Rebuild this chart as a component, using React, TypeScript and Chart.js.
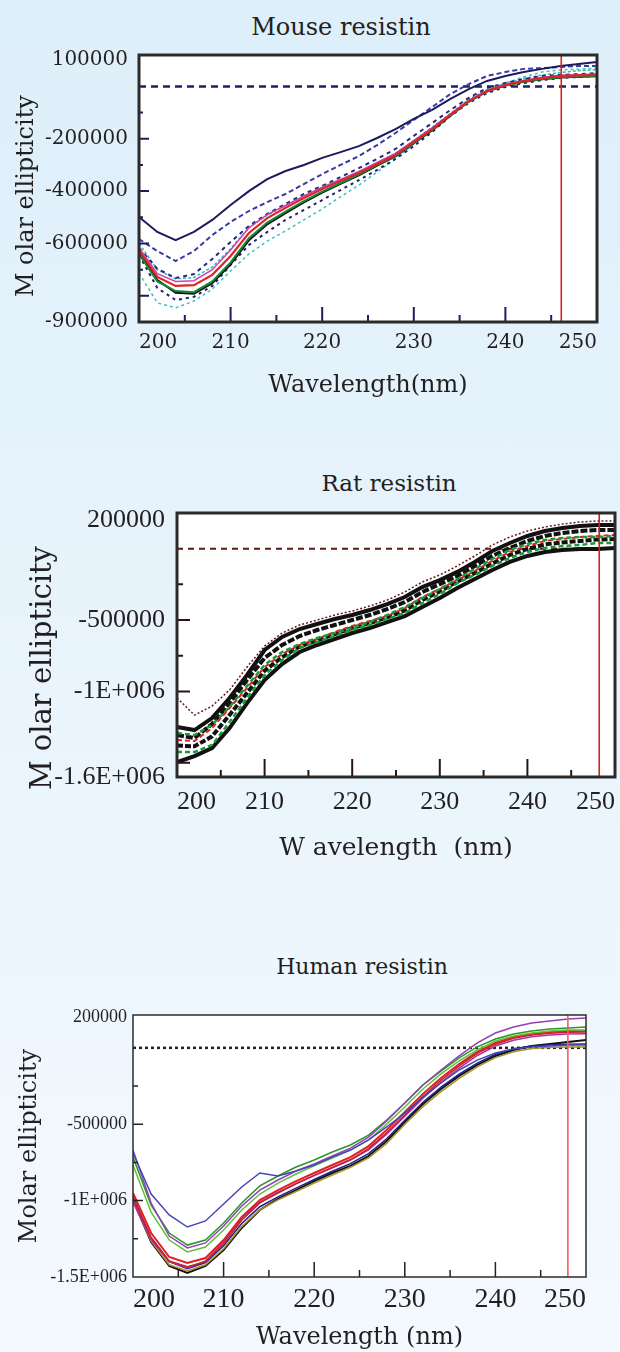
import React, { useEffect, useRef } from 'react';
import { Chart, registerables } from 'chart.js';

Chart.register(...registerables);

// ---------------- shared ----------------
const wavelengths = [200, 202, 204, 206, 208, 210, 212, 214, 216, 218, 220, 222, 224, 226, 228, 230, 232, 234, 236, 238, 240, 242, 244, 246, 248, 250];
const xLabelTicks = [200, 210, 220, 230, 240, 250];
const xMajorInner = [210, 220, 230, 240];
const xMinorInner = [205, 215, 225, 235, 245];

// ---------------- Mouse resistin ----------------
const mouseYTicks = [100000, -200000, -400000, -600000, -900000];
const mouseYLabels = ['100000', '-200000', '-400000', '-600000', '-900000'];
const mouseTop = [-499000, -556000, -587000, -556000, -510000, -453000, -400000, -354000, -323000, -300000, -273000, -251000, -228000, -197000, -163000, -124000, -90000, -48000, -10000, 21000, 40000, 55000, 67000, 78000, 86000, 93000];
const mouseNavy2 = [-583000, -629000, -667000, -629000, -568000, -518000, -476000, -442000, -411000, -373000, -335000, -300000, -266000, -224000, -178000, -128000, -79000, -29000, 9000, 40000, 55000, 67000, 70000, 74000, 78000, 78000];
const mouseNavy3 = [-617000, -697000, -732000, -717000, -659000, -594000, -533000, -487000, -449000, -411000, -380000, -346000, -312000, -277000, -239000, -189000, -140000, -90000, -44000, -6000, 13000, 28000, 40000, 44000, 47000, 51000];
const mouseNavy4 = [-644000, -770000, -816000, -804000, -762000, -682000, -606000, -556000, -510000, -472000, -434000, -396000, -358000, -319000, -277000, -228000, -174000, -113000, -63000, -25000, -2000, 13000, 24000, 32000, 36000, 40000];
const mouseRed = [-625000, -728000, -762000, -759000, -720000, -648000, -560000, -503000, -464000, -426000, -392000, -361000, -331000, -296000, -262000, -212000, -163000, -109000, -56000, -18000, 5000, 21000, 32000, 40000, 42000, 44000];
const mouseMagenta = [-615000, -715000, -745000, -742000, -700000, -625000, -540000, -490000, -455000, -418000, -385000, -355000, -325000, -290000, -256000, -207000, -158000, -105000, -53000, -16000, 7000, 23000, 34000, 42000, 45000, 47000];
const mouseGreen = [-640000, -745000, -782000, -786000, -745000, -672000, -580000, -520000, -478000, -438000, -402000, -369000, -337000, -300000, -265000, -215000, -166000, -111000, -58000, -20000, 3000, 18000, 28000, 35000, 38000, 40000];
const mouseBlack = [-630000, -740000, -788000, -792000, -752000, -680000, -588000, -527000, -484000, -443000, -406000, -372000, -340000, -303000, -267000, -217000, -168000, -112000, -57000, -18000, 4000, 18000, 27000, 34000, 37000, 39000];
const mouseCyanHigh = [-600000, -700000, -735000, -730000, -690000, -620000, -540000, -492000, -456000, -420000, -388000, -358000, -327000, -291000, -256000, -206000, -156000, -103000, -50000, -12000, 12000, 30000, 43000, 53000, 60000, 64000];
const mouseCyanLow = [-713000, -827000, -846000, -820000, -774000, -705000, -640000, -591000, -552000, -510000, -468000, -422000, -377000, -327000, -277000, -220000, -167000, -109000, -60000, -18000, 13000, 36000, 55000, 63000, 66000, 70000];
const mouseMarker = 246.1;

// ---------------- Rat resistin ----------------
const ratYTicks = [200000, -500000, -1000000, -1600000];
const ratYLabels = ['200000', '-500000', '-1E+006', '-1.6E+006'];
const ratDotted = [-1046000, -1166000, -1103000, -990000, -829000, -682000, -591000, -535000, -500000, -465000, -437000, -402000, -360000, -304000, -234000, -184000, -121000, -51000, 26000, 82000, 124000, 152000, 173000, 187000, 194000, 194000];
const ratBlack1 = [-1250000, -1271000, -1187000, -1046000, -885000, -710000, -619000, -563000, -528000, -493000, -465000, -430000, -388000, -339000, -269000, -220000, -163000, -93000, -16000, 40000, 89000, 124000, 145000, 159000, 166000, 166000];
const ratBlack2 = [-1306000, -1327000, -1229000, -1082000, -920000, -766000, -675000, -612000, -570000, -535000, -500000, -465000, -423000, -374000, -304000, -248000, -192000, -121000, -51000, 5000, 54000, 89000, 110000, 124000, 131000, 131000];
const ratBlack3 = [-1495000, -1453000, -1397000, -1257000, -1082000, -920000, -808000, -724000, -675000, -633000, -591000, -556000, -514000, -472000, -409000, -346000, -276000, -213000, -149000, -93000, -51000, -23000, -9000, -2000, -2000, 5000];
const ratBlack4 = [-1380000, -1385000, -1315000, -1165000, -1010000, -855000, -760000, -685000, -643000, -598000, -556000, -521000, -482000, -433000, -360000, -300000, -230000, -170000, -104000, -44000, -2000, 30000, 44000, 54000, 64000, 68000];
const ratRed = [-1341000, -1348000, -1257000, -1117000, -976000, -829000, -738000, -675000, -633000, -584000, -542000, -507000, -472000, -416000, -339000, -283000, -220000, -156000, -86000, -23000, 19000, 54000, 68000, 82000, 89000, 96000];
const ratGreen1 = [-1425000, -1425000, -1376000, -1215000, -1046000, -885000, -780000, -696000, -654000, -612000, -570000, -535000, -493000, -451000, -381000, -318000, -241000, -184000, -121000, -65000, -23000, 5000, 19000, 26000, 40000, 40000];
const ratGreen2 = [-1292000, -1306000, -1236000, -1110000, -962000, -815000, -724000, -668000, -626000, -591000, -556000, -514000, -465000, -409000, -346000, -283000, -213000, -142000, -72000, -9000, 33000, 61000, 75000, 82000, 82000, 89000];
const ratMarker = 248.2;

// ---------------- Human resistin ----------------
const humanYTicks = [200000, -500000, -1000000, -1500000];
const humanYLabels = ['200000', '-500000', '-1E+006', '-1.5E+006'];
const humanBlue = [-688000, -957000, -1094000, -1173000, -1133000, -1022000, -911000, -819000, -839000, -806000, -767000, -715000, -669000, -603000, -518000, -427000, -322000, -230000, -145000, -80000, -34000, -8000, 6000, 12000, 19000, 19000];
const humanGreen = [-715000, -1029000, -1212000, -1291000, -1258000, -1147000, -1016000, -904000, -839000, -780000, -734000, -682000, -636000, -571000, -472000, -361000, -243000, -152000, -66000, 6000, 58000, 91000, 110000, 123000, 130000, 136000];
const humanPurple = [-669000, -1016000, -1232000, -1310000, -1277000, -1166000, -1035000, -931000, -865000, -806000, -760000, -708000, -656000, -584000, -479000, -361000, -243000, -145000, -53000, 32000, 97000, 136000, 163000, 176000, 189000, 195000];
const humanLightGreen = [-767000, -1075000, -1258000, -1336000, -1304000, -1192000, -1061000, -957000, -885000, -826000, -773000, -721000, -669000, -603000, -499000, -387000, -269000, -171000, -86000, -14000, 45000, 78000, 97000, 110000, 117000, 117000];
const humanRed = [-950000, -1212000, -1369000, -1408000, -1376000, -1258000, -1107000, -996000, -931000, -872000, -819000, -767000, -715000, -643000, -538000, -420000, -302000, -197000, -106000, -27000, 32000, 71000, 91000, 104000, 110000, 110000];
const humanRed2 = [-980000, -1240000, -1395000, -1432000, -1400000, -1282000, -1128000, -1015000, -950000, -888000, -835000, -783000, -731000, -660000, -556000, -440000, -320000, -212000, -118000, -36000, 24000, 62000, 84000, 96000, 102000, 104000];
const humanMagenta = [-1010000, -1255000, -1400000, -1440000, -1395000, -1270000, -1115000, -1010000, -945000, -890000, -836000, -785000, -735000, -668000, -565000, -448000, -330000, -225000, -132000, -50000, 12000, 50000, 72000, 84000, 90000, 92000];
const humanBlack = [-996000, -1271000, -1428000, -1474000, -1428000, -1323000, -1179000, -1061000, -989000, -931000, -872000, -819000, -773000, -708000, -610000, -485000, -368000, -269000, -184000, -112000, -53000, -14000, 12000, 25000, 38000, 51000];
const humanNavy = [-975000, -1250000, -1400000, -1445000, -1405000, -1295000, -1150000, -1040000, -975000, -918000, -862000, -808000, -758000, -692000, -595000, -474000, -356000, -257000, -172000, -100000, -42000, -5000, 12000, 20000, 24000, 25000];
const humanOlive = [-1000000, -1265000, -1420000, -1460000, -1420000, -1315000, -1170000, -1060000, -995000, -940000, -885000, -832000, -782000, -720000, -625000, -500000, -385000, -287000, -200000, -125000, -64000, -25000, -5000, 3000, 6000, 6000];
const humanMarker = 248.0;

// ---------------- panel definitions ----------------
type Series = { name: string; values: number[]; color: string; width: number; dash?: number[] };
type Panel = {
  title: string; titleX: number; titleY: number; titleSize: number;
  top: number; height: number; padTop: number; padRight: number;
  xAxisHeight: number; yAxisWidth: number;
  xMin: number; xMax: number; yMin: number; yMax: number;
  yTicks: number[]; yLabels: string[];
  xTickFont: { family: string; size: number }; xTickPad: number;
  yTickFont: { family: string; size: number }; yTickPad: number;
  xTitle: string; xTitleFont: { family: string; size: number }; xTitlePad: number;
  yTitle: string; yTitleFont: { family: string; size: number }; yTitlePad: number;
  series: Series[];
  zeroColor: string; zeroWidth: number; zeroDash: number[];
  marker: number; markerColor: string;
  boxWidth: number; tickColor: string; tickWidth: number;
  xTickLen: [number, number]; yTickLen: [number, number];
  yMajorInner: number[]; yMinorInner: number[];
};

const TEXT = '#231f20';

const panels: Panel[] = [
  {
    title: 'Mouse resistin', titleX: 341, titleY: 27, titleSize: 24,
    top: 40, height: 370, padTop: 15, padRight: 23, xAxisHeight: 88, yAxisWidth: 139,
    xMin: 200, xMax: 250, yMin: -900000, yMax: 120000,
    yTicks: mouseYTicks, yLabels: mouseYLabels,
    xTickFont: { family: 'DejaVu Serif', size: 20 }, xTickPad: 9,
    yTickFont: { family: 'DejaVu Serif', size: 20 }, yTickPad: 11,
    xTitle: 'Wavelength(nm)', xTitleFont: { family: 'DejaVu Serif', size: 24 }, xTitlePad: 10,
    yTitle: 'M olar ellipticity  ', yTitleFont: { family: 'DejaVu Serif', size: 24 }, yTitlePad: 12,
    series: [
      { name: 'top', values: mouseTop, color: '#1b1b5e', width: 2 },
      { name: 'red', values: mouseRed, color: '#e02424', width: 2.2 },
      { name: 'magenta', values: mouseMagenta, color: '#d040b0', width: 1.5 },
      { name: 'green', values: mouseGreen, color: '#108a3a', width: 2 },
      { name: 'black', values: mouseBlack, color: '#111111', width: 2 },
      { name: 'navy2', values: mouseNavy2, color: '#3b3ba0', width: 2, dash: [5, 3] },
      { name: 'navy3', values: mouseNavy3, color: '#28287a', width: 2, dash: [4, 4] },
      { name: 'navy4', values: mouseNavy4, color: '#202070', width: 2, dash: [3, 4] },
      { name: 'cyanHigh', values: mouseCyanHigh, color: '#30b8b8', width: 1.5, dash: [3, 2] },
      { name: 'cyanLow', values: mouseCyanLow, color: '#40c0c0', width: 1.5, dash: [3, 3] },
    ],
    zeroColor: '#1e1e6e', zeroWidth: 2.5, zeroDash: [7, 5],
    marker: mouseMarker, markerColor: '#e02020',
    boxWidth: 3, tickColor: '#1d1d5e', tickWidth: 2,
    xTickLen: [15, 7], yTickLen: [10, 4],
    yMajorInner: [-200000, -400000, -600000, -800000], yMinorInner: [-100000, -300000, -500000, -700000],
  },
  {
    title: 'Rat resistin', titleX: 389, titleY: 483, titleSize: 23,
    top: 495, height: 375, padTop: 18, padRight: 5, xAxisHeight: 93, yAxisWidth: 177,
    xMin: 200, xMax: 250, yMin: -1600000, yMax: 250000,
    yTicks: ratYTicks, yLabels: ratYLabels,
    xTickFont: { family: 'Liberation Serif', size: 26 }, xTickPad: 10,
    yTickFont: { family: 'Liberation Serif', size: 26 }, yTickPad: 12,
    xTitle: 'W avelength  (nm)', xTitleFont: { family: 'DejaVu Serif', size: 25 }, xTitlePad: 7,
    yTitle: 'M olar ellipticity     ', yTitleFont: { family: 'DejaVu Serif', size: 29 }, yTitlePad: 26,
    series: [
      { name: 'green2', values: ratGreen2, color: '#1a9a3a', width: 2.5, dash: [5, 3] },
      { name: 'red', values: ratRed, color: '#e02020', width: 2, dash: [5, 3] },
      { name: 'green1', values: ratGreen1, color: '#1a9a3a', width: 2.5, dash: [5, 3] },
      { name: 'black1', values: ratBlack1, color: '#111111', width: 4 },
      { name: 'black2', values: ratBlack2, color: '#111111', width: 4, dash: [7, 2] },
      { name: 'black4', values: ratBlack4, color: '#111111', width: 4, dash: [6, 2] },
      { name: 'black3', values: ratBlack3, color: '#111111', width: 4 },
      { name: 'dotted', values: ratDotted, color: '#6a1a1a', width: 1.5, dash: [2, 2] },
    ],
    zeroColor: '#5a1a10', zeroWidth: 2, zeroDash: [6, 5],
    marker: ratMarker, markerColor: '#d02020',
    boxWidth: 3, tickColor: '#2a1410', tickWidth: 2,
    xTickLen: [18, 7], yTickLen: [13, 6],
    yMajorInner: [-500000, -1000000, -1500000], yMinorInner: [-250000, -750000, -1250000],
  },
  {
    title: 'Human resistin', titleX: 362, titleY: 967, titleSize: 22,
    top: 1000, height: 352, padTop: 15, padRight: 34, xAxisHeight: 75, yAxisWidth: 133,
    xMin: 200, xMax: 250, yMin: -1500000, yMax: 215000,
    yTicks: humanYTicks, yLabels: humanYLabels,
    xTickFont: { family: 'Liberation Serif', size: 28 }, xTickPad: 6,
    yTickFont: { family: 'Liberation Serif', size: 18 }, yTickPad: 6,
    xTitle: 'Wavelength (nm)', xTitleFont: { family: 'DejaVu Serif', size: 24 }, xTitlePad: 0,
    yTitle: 'Molar ellipticity', yTitleFont: { family: 'DejaVu Serif', size: 24 }, yTitlePad: 15,
    series: [
      { name: 'blue', values: humanBlue, color: '#4646b4', width: 1.5 },
      { name: 'purple', values: humanPurple, color: '#9440b4', width: 1.5 },
      { name: 'green', values: humanGreen, color: '#2a962a', width: 1.5 },
      { name: 'lightGreen', values: humanLightGreen, color: '#62c040', width: 1.5 },
      { name: 'red', values: humanRed, color: '#e02020', width: 2 },
      { name: 'red2', values: humanRed2, color: '#c42030', width: 1.5 },
      { name: 'magenta', values: humanMagenta, color: '#b030a0', width: 1.5 },
      { name: 'navy', values: humanNavy, color: '#202088', width: 1.5 },
      { name: 'olive', values: humanOlive, color: '#a89428', width: 1.5 },
      { name: 'black', values: humanBlack, color: '#111111', width: 2 },
    ],
    zeroColor: '#222222', zeroWidth: 2.5, zeroDash: [3, 3],
    marker: humanMarker, markerColor: '#f06060',
    boxWidth: 1.5, tickColor: '#222222', tickWidth: 1.5,
    xTickLen: [15, 7], yTickLen: [10, 5],
    yMajorInner: [-500000, -1000000], yMinorInner: [-250000, -750000, -1250000],
  },
];

function framePlugin(p: Panel) {
  return {
    id: 'frame',
    beforeDatasetsDraw(chart: any) {
      const { ctx, chartArea: a } = chart;
      ctx.save();
      ctx.fillStyle = '#ffffff';
      ctx.fillRect(a.left, a.top, a.right - a.left, a.bottom - a.top);
      ctx.restore();
    },
    afterDatasetsDraw(chart: any) {
      const { ctx, chartArea: a, scales } = chart;
      const x = scales.x;
      const y = scales.y;
      ctx.save();
      ctx.strokeStyle = p.tickColor;
      ctx.lineWidth = p.tickWidth;
      ctx.beginPath();
      xMajorInner.forEach((v) => {
        const px = x.getPixelForValue(v);
        ctx.moveTo(px, a.bottom);
        ctx.lineTo(px, a.bottom - p.xTickLen[0]);
      });
      xMinorInner.forEach((v) => {
        const px = x.getPixelForValue(v);
        ctx.moveTo(px, a.bottom);
        ctx.lineTo(px, a.bottom - p.xTickLen[1]);
      });
      p.yMajorInner.forEach((v) => {
        const py = y.getPixelForValue(v);
        ctx.moveTo(a.left, py);
        ctx.lineTo(a.left + p.yTickLen[0], py);
      });
      p.yMinorInner.forEach((v) => {
        const py = y.getPixelForValue(v);
        ctx.moveTo(a.left, py);
        ctx.lineTo(a.left + p.yTickLen[1], py);
      });
      ctx.stroke();
      ctx.strokeStyle = '#2b2b2b';
      ctx.lineWidth = p.boxWidth;
      ctx.strokeRect(a.left, a.top, a.right - a.left, a.bottom - a.top);
      ctx.restore();
    },
  };
}

function buildConfig(p: Panel): any {
  const datasets: any[] = p.series.map((s) => ({
    label: s.name,
    data: wavelengths.map((w, i) => ({ x: w, y: s.values[i] })),
    borderColor: s.color,
    borderWidth: s.width,
    borderDash: s.dash || [],
    pointRadius: 0,
    fill: false,
    tension: 0,
  }));
  datasets.unshift({
    label: 'marker',
    data: [{ x: p.marker, y: p.yMin }, { x: p.marker, y: p.yMax }],
    borderColor: p.markerColor,
    borderWidth: 1.6,
    pointRadius: 0,
    fill: false,
  });
  datasets.push({
    label: 'zero',
    data: [{ x: p.xMin, y: 0 }, { x: p.xMax, y: 0 }],
    borderColor: p.zeroColor,
    borderWidth: p.zeroWidth,
    borderDash: p.zeroDash,
    pointRadius: 0,
    fill: false,
  });
  return {
    type: 'line',
    data: { datasets },
    options: {
      responsive: false,
      animation: false,
      events: [],
      layout: { padding: { top: p.padTop, right: p.padRight, bottom: 0, left: 0 } },
      plugins: { legend: { display: false }, tooltip: { enabled: false }, title: { display: false } },
      scales: {
        x: {
          type: 'linear',
          min: p.xMin,
          max: p.xMax,
          afterBuildTicks: (s: any) => {
            s.ticks = xLabelTicks.map((v) => ({ value: v }));
          },
          ticks: {
            align: 'inner',
            maxRotation: 0,
            minRotation: 0,
            autoSkip: false,
            padding: p.xTickPad,
            font: p.xTickFont,
            color: TEXT,
            callback: (v: number) => String(v),
          },
          grid: { display: false, drawTicks: false, tickLength: 0 },
          border: { display: false },
          title: { display: true, text: p.xTitle, font: p.xTitleFont, color: TEXT, padding: { top: 0, bottom: p.xTitlePad } },
          afterFit: (s: any) => {
            s.height = p.xAxisHeight;
            s.paddingLeft = 0;
            s.paddingRight = 0;
          },
        },
        y: {
          type: 'linear',
          min: p.yMin,
          max: p.yMax,
          afterBuildTicks: (s: any) => {
            s.ticks = p.yTicks.map((v) => ({ value: v }));
          },
          ticks: {
            autoSkip: false,
            padding: p.yTickPad,
            font: p.yTickFont,
            color: TEXT,
            callback: (v: number) => {
              const i = p.yTicks.indexOf(v);
              return i >= 0 ? p.yLabels[i] : '';
            },
          },
          grid: { display: false, drawTicks: false, tickLength: 0 },
          border: { display: false },
          title: { display: true, text: p.yTitle, font: p.yTitleFont, color: TEXT, padding: { top: p.yTitlePad, bottom: 0 } },
          afterFit: (s: any) => {
            s.width = p.yAxisWidth;
            s.paddingTop = 0;
            s.paddingBottom = 0;
          },
        },
      },
    },
    plugins: [framePlugin(p)],
  };
}

function PanelChart({ p }: { p: Panel }) {
  const ref = useRef<HTMLCanvasElement | null>(null);
  useEffect(() => {
    if (!ref.current) return;
    const chart = new Chart(ref.current, buildConfig(p));
    return () => chart.destroy();
  }, [p]);
  return (
    <>
      <div
        style={{
          position: 'absolute',
          left: p.titleX - 200,
          top: p.titleY - 16,
          width: 400,
          height: 32,
          lineHeight: '32px',
          textAlign: 'center',
          fontFamily: 'DejaVu Serif',
          fontSize: p.titleSize,
          color: TEXT,
          whiteSpace: 'nowrap',
        }}
      >
        {p.title}
      </div>
      <canvas
        ref={ref}
        width={620}
        height={p.height}
        style={{ position: 'absolute', left: 0, top: p.top, width: 620, height: p.height, display: 'block' }}
      />
    </>
  );
}

export default function App() {
  return (
    <div
      style={{
        position: 'absolute',
        left: 0,
        top: 0,
        width: 620,
        height: 1352,
        overflow: 'hidden',
        background: 'linear-gradient(180deg, #ddeffa 0%, #e9f4fc 50%, #f4f9fe 100%)',
      }}
    >
      {panels.map((p) => (
        <PanelChart key={p.title} p={p} />
      ))}
    </div>
  );
}
